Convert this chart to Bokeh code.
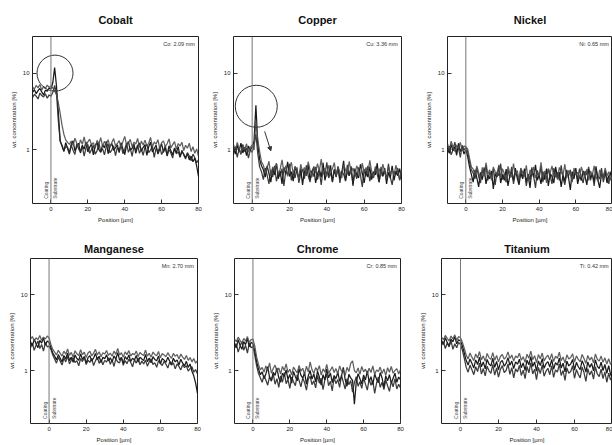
from bokeh.plotting import figure
from bokeh.layouts import column, row
from bokeh.models import Span, Label, FixedTicker, Arrow, NormalHead, Range1d
from bokeh.embed import file_html
from bokeh.resources import INLINE

# ---------------- data ----------------
POSITIONS = list(range(-10, 81))  # µm
X_TICKS = [0, 20, 40, 60, 80]
Y_TICKS = [1, 10]
Y_TICK_LABELS = {1: "1", 10: "10"}
Y_MINOR = [0.2, 0.3, 0.4, 0.5, 0.6, 0.7, 0.8, 0.9, 2, 3, 4, 5, 6, 7, 8, 9, 20, 30]

TITLES = ["Cobalt", "Copper", "Nickel", "Manganese", "Chrome", "Titanium"]
NOTES = ["Co: 2.09 mm", "Cu: 3.36 mm", "Ni: 0.65 mm", "Mn: 2.70 mm", "Cr: 0.85 mm", "Ti: 0.42 mm"]
REGION_LABELS = ["Coating", "Substrate"]

COBALT_A = [5.6, 6.1, 5.4, 5.9, 6.3, 5.7, 5.2, 6.0, 5.8, 6.4,
            6.2, 7.5, 11.8, 6.8, 3.1, 1.3,
            1.12, 0.95, 1.24, 1.05, 0.88, 1.18, 1.31, 0.97, 1.09, 1.22,
            0.91, 1.15, 1.02, 1.27, 0.94, 1.08, 1.19, 0.86, 1.13, 1.25,
            1.01, 0.93, 1.17, 1.06, 1.29, 0.89, 1.11, 1.21, 0.98, 1.07,
            1.16, 0.92, 1.24, 1.03, 0.87, 1.14, 1.28, 0.99, 1.05, 1.19,
            0.9, 1.12, 1.23, 0.96, 1.08, 1.17, 0.85, 1.1, 1.26, 0.94,
            1.04, 1.15, 0.88, 1.02, 1.2, 0.93, 1.07, 0.84, 1.13, 0.97,
            0.86, 1.05, 0.92, 1.1, 0.81, 0.95, 0.88, 0.79, 0.9, 0.74,
            0.83, 0.7, 0.78, 0.62, 0.45]
COBALT_B = [4.8, 5.3, 5.0, 4.6, 5.5, 5.1, 4.9, 5.4, 4.7, 5.2,
            5.0, 5.6, 6.9, 5.5, 2.4, 1.3, 1.15, 0.98, 1.1,
            1.08, 0.92, 1.15, 0.99, 0.87, 1.21, 1.03, 0.94, 1.12, 0.83,
            1.06, 1.18, 0.9, 1.01, 1.14, 0.88, 0.97, 1.23, 0.95, 1.04,
            0.86, 1.1, 1.2, 0.91, 1.0, 1.13, 0.84, 1.07, 0.96, 1.17,
            0.89, 1.02, 1.22, 0.93, 1.06, 0.82, 1.11, 0.98, 1.16, 0.9,
            1.03, 0.85, 1.09, 1.19, 0.92, 0.99, 1.12, 0.8, 1.05, 0.94,
            1.1, 0.87, 0.97, 1.14, 0.83, 1.01, 0.91, 0.78, 1.06, 0.89,
            0.95, 0.8, 0.99, 0.86, 0.76, 0.92, 0.83, 0.72, 0.88, 0.79,
            0.68, 0.74]
COBALT_C = [6.6, 6.2, 6.9, 6.4, 7.1, 6.0, 6.7, 6.3, 7.0, 6.5,
            6.8, 6.4, 5.9, 5.2, 4.1, 3.0, 2.1, 1.6, 1.35, 1.25, 1.18,
            1.3, 1.14, 1.42, 1.22, 1.09, 1.35, 1.18, 1.48, 1.12, 1.27,
            1.38, 1.16, 1.24, 1.05, 1.33, 1.2, 1.44, 1.11, 1.29, 1.17,
            1.36, 1.08, 1.25, 1.4, 1.13, 1.21, 1.32, 1.06, 1.28, 1.5,
            1.15, 1.23, 1.37, 1.1, 1.26, 1.19, 1.41, 1.07, 1.3, 1.16,
            1.34, 1.12, 1.22, 1.45, 1.09, 1.27, 1.18, 1.36, 1.04, 1.24,
            1.31, 1.1, 1.2, 1.39, 1.06, 1.17, 1.28, 1.02, 1.21, 1.12,
            1.26, 0.98, 1.15, 1.05, 1.22, 0.95, 1.1, 0.9, 1.03, 0.82]

COPPER_A = [1.05, 0.88, 1.15, 0.96, 1.22, 0.91, 1.08, 0.84, 1.12, 0.99,
            1.1, 1.3, 3.8, 1.2, 0.75, 0.62,
            0.55, 0.44, 0.62, 0.49, 0.38, 0.58, 0.47, 0.66, 0.42, 0.53,
            0.36, 0.59, 0.48, 0.7, 0.45, 0.52, 0.39, 0.61, 0.5, 0.43,
            0.57, 0.35, 0.54, 0.46, 0.64, 0.41, 0.51, 0.6, 0.37, 0.49,
            0.56, 0.44, 0.68, 0.4, 0.52, 0.47, 0.63, 0.38, 0.55, 0.45,
            0.59, 0.42, 0.5, 0.72, 0.39, 0.53, 0.46, 0.61, 0.34, 0.57,
            0.48, 0.43, 0.65, 0.5, 0.37, 0.55, 0.44, 0.6, 0.41, 0.52,
            0.47, 0.67, 0.38, 0.54, 0.45, 0.58, 0.36, 0.51, 0.43, 0.62,
            0.4, 0.53, 0.46, 0.57, 0.42]
COPPER_B = [0.92, 1.1, 0.8, 1.02, 0.87, 1.18, 0.95, 1.06, 0.78, 1.0,
            0.93, 1.15, 1.6, 0.9, 0.6,
            0.52, 0.41, 0.58, 0.47, 0.36, 0.55, 0.44, 0.62, 0.39, 0.5,
            0.45, 0.57, 0.34, 0.53, 0.48, 0.66, 0.4, 0.51, 0.43, 0.59,
            0.37, 0.49, 0.56, 0.42, 0.63, 0.46, 0.38, 0.54, 0.45, 0.6,
            0.41, 0.52, 0.35, 0.58, 0.47, 0.69, 0.43, 0.5, 0.39, 0.56,
            0.44, 0.61, 0.37, 0.53, 0.48, 0.4, 0.64, 0.46, 0.55, 0.36,
            0.51, 0.42, 0.59, 0.47, 0.33, 0.56, 0.45, 0.62, 0.39, 0.5,
            0.43, 0.57, 0.48, 0.38, 0.6, 0.46, 0.53, 0.41, 0.66, 0.44,
            0.35, 0.52, 0.47, 0.58, 0.4, 0.49]
COPPER_C = [1.18, 0.97, 1.25, 1.04, 0.9, 1.14, 1.01, 1.2, 0.93, 1.08,
            1.16, 1.0, 2.4, 1.35, 0.95, 0.7,
            0.63, 0.5, 0.58, 0.71, 0.46, 0.6, 0.53, 0.67, 0.48, 0.56,
            0.74, 0.51, 0.62, 0.45, 0.57, 0.69, 0.49, 0.6, 0.54, 0.42,
            0.65, 0.52, 0.59, 0.47, 0.7, 0.55, 0.44, 0.61, 0.5, 0.66,
            0.53, 0.76, 0.48, 0.58, 0.45, 0.63, 0.51, 0.57, 0.68, 0.46,
            0.6, 0.52, 0.43, 0.64, 0.55, 0.49, 0.71, 0.5, 0.58, 0.47,
            0.62, 0.54, 0.45, 0.67, 0.51, 0.59, 0.48, 0.73, 0.53, 0.44,
            0.61, 0.5, 0.57, 0.46, 0.65, 0.52, 0.42, 0.6, 0.49, 0.55,
            0.47, 0.63, 0.5, 0.41, 0.56]

NICKEL_A = [1.05, 0.9, 1.18, 0.97, 1.1, 0.85, 1.22, 0.95, 1.08, 0.88,
            1.0, 0.82, 0.6,
            0.48, 0.38, 0.55, 0.43, 0.33, 0.51, 0.41, 0.59, 0.36, 0.47,
            0.42, 0.53, 0.31, 0.49, 0.44, 0.62, 0.37, 0.48, 0.4, 0.56,
            0.34, 0.46, 0.52, 0.39, 0.58, 0.43, 0.35, 0.5, 0.42, 0.57,
            0.38, 0.48, 0.32, 0.54, 0.44, 0.64, 0.4, 0.47, 0.36, 0.52,
            0.41, 0.57, 0.34, 0.49, 0.45, 0.37, 0.6, 0.43, 0.51, 0.33,
            0.47, 0.39, 0.55, 0.44, 0.3, 0.52, 0.42, 0.58, 0.36, 0.46,
            0.4, 0.53, 0.45, 0.35, 0.56, 0.43, 0.49, 0.38, 0.61, 0.41,
            0.32, 0.48, 0.44, 0.54, 0.37, 0.46, 0.5, 0.4]
NICKEL_B = [0.92, 1.12, 0.86, 1.0, 1.26, 0.94, 1.06, 0.8, 1.15, 0.99,
            1.08, 0.95, 0.7, 0.55,
            0.5, 0.42, 0.58, 0.45, 0.37, 0.54, 0.47, 0.63, 0.4, 0.51,
            0.44, 0.56, 0.35, 0.52, 0.46, 0.66, 0.41, 0.49, 0.38, 0.55,
            0.43, 0.6, 0.36, 0.5, 0.47, 0.39, 0.57, 0.44, 0.53, 0.34,
            0.48, 0.41, 0.59, 0.45, 0.32, 0.54, 0.43, 0.61, 0.38, 0.49,
            0.42, 0.56, 0.46, 0.36, 0.58, 0.44, 0.51, 0.4, 0.63, 0.43,
            0.35, 0.5, 0.46, 0.55, 0.39, 0.48, 0.52, 0.41, 0.57, 0.44,
            0.37, 0.53, 0.47, 0.6, 0.4, 0.5, 0.34, 0.55, 0.45, 0.42,
            0.58, 0.38, 0.49, 0.44, 0.36, 0.52, 0.46]
NICKEL_C = [1.2, 1.0, 1.3, 1.08, 0.95, 1.16, 1.04, 1.25, 0.98, 1.12,
            1.1, 1.02, 0.78, 0.6,
            0.56, 0.47, 0.62, 0.5, 0.42, 0.59, 0.45, 0.68, 0.48, 0.55,
            0.4, 0.6, 0.52, 0.46, 0.64, 0.43, 0.57, 0.49, 0.38, 0.61,
            0.5, 0.44, 0.66, 0.47, 0.54, 0.41, 0.58, 0.51, 0.45, 0.63,
            0.39, 0.55, 0.48, 0.6, 0.43, 0.52, 0.46, 0.69, 0.44, 0.53,
            0.37, 0.57, 0.5, 0.62, 0.45, 0.49, 0.41, 0.59, 0.52, 0.46,
            0.65, 0.43, 0.54, 0.48, 0.38, 0.58, 0.47, 0.51, 0.42, 0.6,
            0.5, 0.44, 0.56, 0.4, 0.53, 0.47, 0.62, 0.45, 0.39, 0.55,
            0.49, 0.43, 0.58, 0.46, 0.52, 0.4, 0.48]

MANGANESE_A = [2.4, 2.1, 2.6, 2.25, 2.0, 2.5, 2.3, 2.7, 2.15, 2.45,
               2.35, 2.0, 1.7,
               1.55, 1.38, 1.62, 1.45, 1.3, 1.58, 1.42, 1.7, 1.35, 1.5,
               1.28, 1.6, 1.44, 1.36, 1.66, 1.4, 1.52, 1.25, 1.48, 1.57,
               1.33, 1.46, 1.68, 1.39, 1.54, 1.27, 1.5, 1.43, 1.61, 1.34,
               1.47, 1.3, 1.56, 1.41, 1.72, 1.37, 1.49, 1.24, 1.53, 1.4,
               1.6, 1.32, 1.45, 1.38, 1.58, 1.29, 1.5, 1.42, 1.35, 1.63,
               1.31, 1.46, 1.26, 1.52, 1.4, 1.34, 1.55, 1.22, 1.44, 1.37,
               1.28, 1.5, 1.33, 1.2, 1.45, 1.3, 1.38, 1.18, 1.41, 1.25,
               1.15, 1.32, 1.1, 1.22, 0.98, 0.85, 0.68, 0.5]
MANGANESE_B = [2.0, 2.3, 1.85, 2.15, 2.45, 1.95, 2.2, 1.8, 2.35, 2.05,
               2.1, 1.9, 1.6,
               1.42, 1.25, 1.5, 1.33, 1.18, 1.46, 1.3, 1.55, 1.22, 1.38,
               1.48, 1.27, 1.35, 1.15, 1.44, 1.31, 1.52, 1.2, 1.37, 1.28,
               1.45, 1.16, 1.34, 1.5, 1.24, 1.4, 1.19, 1.36, 1.29, 1.47,
               1.21, 1.38, 1.13, 1.43, 1.3, 1.26, 1.49, 1.17, 1.35, 1.23,
               1.41, 1.28, 1.12, 1.39, 1.25, 1.46, 1.19, 1.33, 1.22, 1.37,
               1.14, 1.3, 1.42, 1.2, 1.27, 1.1, 1.35, 1.24, 1.16, 1.32,
               1.21, 1.08, 1.29, 1.18, 1.26, 1.05, 1.22, 1.13, 1.02, 1.19,
               1.09, 1.16, 0.98, 1.06, 1.12, 0.95, 1.03, 0.9]
MANGANESE_C = [2.6, 2.8, 2.45, 2.7, 2.55, 2.9, 2.5, 2.75, 2.6, 2.85,
               2.7, 2.2, 1.9,
               1.75, 1.6, 1.85, 1.68, 1.55, 1.8, 1.64, 1.92, 1.58, 1.73,
               1.5, 1.82, 1.66, 1.57, 1.88, 1.62, 1.74, 1.48, 1.7, 1.79,
               1.56, 1.69, 1.9, 1.6, 1.77, 1.52, 1.72, 1.65, 1.84, 1.58,
               1.7, 1.54, 1.8, 1.63, 1.95, 1.6, 1.72, 1.5, 1.76, 1.62,
               1.83, 1.55, 1.68, 1.61, 1.8, 1.53, 1.73, 1.64, 1.58, 1.86,
               1.55, 1.69, 1.5, 1.75, 1.63, 1.57, 1.78, 1.47, 1.67, 1.6,
               1.52, 1.72, 1.56, 1.45, 1.68, 1.54, 1.62, 1.42, 1.65, 1.5,
               1.4, 1.58, 1.36, 1.48, 1.3, 1.44, 1.25, 1.35]

CHROME_A = [2.3, 2.0, 2.55, 2.15, 1.9, 2.4, 2.2, 2.65, 2.05, 2.35,
            2.25, 1.8, 1.3,
            1.05, 0.88, 0.96, 0.78, 0.9, 1.12, 0.82, 0.74, 0.95, 0.86,
            1.08, 0.8, 0.7, 0.92, 0.84, 1.02, 0.76, 0.89, 0.68, 0.97,
            0.83, 0.73, 1.06, 0.87, 0.79, 0.94, 0.66, 0.85, 1.0, 0.77,
            0.9, 0.71, 0.98, 0.82, 0.64, 0.88, 0.75, 1.04, 0.8, 0.93,
            0.69, 0.86, 0.78, 0.95, 0.72, 0.84, 1.1, 0.76, 0.62, 0.89,
            0.8, 0.74, 0.36, 0.7, 0.91, 0.78, 0.67, 0.87, 0.75, 0.99,
            0.71, 0.83, 0.65, 0.9, 0.77, 0.69, 0.94, 0.8, 0.6, 0.85,
            0.73, 0.88, 0.68, 0.79, 0.92, 0.7, 0.82, 0.76]
CHROME_B = [1.95, 2.25, 1.75, 2.1, 2.4, 1.85, 2.15, 1.7, 2.3, 2.0,
            2.05, 1.6, 1.15,
            0.92, 0.8, 0.7, 0.86, 0.75, 0.64, 0.83, 0.72, 0.9, 0.66,
            0.78, 0.6, 0.85, 0.7, 0.94, 0.67, 0.76, 0.58, 0.82, 0.71,
            0.63, 0.88, 0.74, 0.61, 0.8, 0.69, 0.55, 0.77, 0.84, 0.65,
            0.73, 0.59, 0.86, 0.68, 0.79, 0.56, 0.75, 0.9, 0.63, 0.72,
            0.54, 0.81, 0.67, 0.76, 0.6, 0.87, 0.7, 0.57, 0.78, 0.65,
            0.74, 0.52, 0.69, 0.83, 0.62, 0.71, 0.58, 0.8, 0.66, 0.55,
            0.77, 0.64, 0.73, 0.5, 0.68, 0.82, 0.6, 0.7, 0.56, 0.75,
            0.63, 0.53, 0.72, 0.61, 0.78, 0.57, 0.66, 0.59]
CHROME_C = [2.6, 2.4, 2.75, 2.5, 2.3, 2.65, 2.45, 2.8, 2.35, 2.55,
            2.6, 2.1, 1.5,
            1.2, 1.02, 1.1, 0.95, 1.15, 0.99, 1.26, 0.92, 1.06, 1.18,
            0.97, 1.08, 0.9, 1.13, 1.0, 1.22, 0.94, 1.04, 0.88, 1.11,
            1.01, 0.93, 1.17, 0.98, 1.07, 0.89, 1.14, 0.96, 1.3, 1.03,
            0.91, 1.09, 0.99, 1.16, 0.87, 1.05, 0.95, 1.2, 0.92, 1.01,
            1.12, 0.94, 1.06, 0.9, 1.15, 0.98, 1.03, 0.86, 1.1, 0.97,
            1.24, 1.34, 1.0, 0.93, 1.08, 0.89, 1.13, 0.96, 1.04, 0.9,
            1.07, 0.94, 1.15, 0.88, 1.02, 0.97, 1.11, 0.91, 1.05, 0.86,
            1.09, 0.95, 1.13, 0.92, 1.0, 1.06, 0.9, 1.03]

TITANIUM_A = [2.5, 2.2, 2.7, 2.35, 2.1, 2.6, 2.4, 2.8, 2.25, 2.55,
              2.45, 2.1, 1.7,
              1.35, 1.18, 1.42, 1.25, 1.08, 1.38, 1.2, 1.5, 1.12, 1.3,
              1.05, 1.4, 1.22, 1.15, 1.45, 1.1, 1.32, 1.02, 1.28, 1.36,
              1.14, 1.24, 1.48, 1.17, 1.33, 1.06, 1.3, 1.21, 1.41, 1.09,
              1.26, 1.0, 1.37, 1.19, 1.52, 1.13, 1.29, 0.98, 1.34, 1.16,
              1.43, 1.07, 1.23, 1.31, 1.11, 1.39, 1.04, 1.27, 1.18, 1.46,
              1.08, 1.25, 0.96, 1.33, 1.15, 1.22, 1.4, 1.01, 1.28, 1.12,
              1.03, 1.35, 1.17, 0.95, 1.3, 1.1, 1.24, 0.99, 1.38, 1.14,
              1.06, 1.29, 1.0, 1.2, 0.92, 1.16, 0.88, 0.82]
TITANIUM_B = [2.15, 2.4, 1.95, 2.3, 2.05, 2.5, 1.9, 2.25, 2.0, 2.35,
              2.2, 1.85, 1.45,
              1.1, 0.95, 1.18, 1.02, 0.88, 1.12, 0.97, 1.25, 0.9, 1.06,
              0.85, 1.14, 0.99, 0.92, 1.2, 0.87, 1.08, 0.82, 1.03, 1.16,
              0.94, 1.0, 1.22, 0.89, 1.09, 0.8, 1.05, 0.96, 1.17, 0.86,
              1.01, 0.78, 1.13, 0.93, 1.26, 0.9, 1.04, 0.76, 1.1, 0.91,
              1.19, 0.84, 0.98, 1.07, 0.88, 1.15, 0.81, 1.02, 0.95, 1.21,
              0.86, 1.0, 0.74, 1.08, 0.92, 0.97, 1.16, 0.79, 1.03, 0.89,
              0.8, 1.11, 0.94, 0.72, 1.06, 0.87, 0.99, 0.77, 1.12, 0.9,
              0.83, 1.04, 0.78, 0.96, 0.7, 0.92, 0.75, 0.86]
TITANIUM_C = [2.75, 2.55, 2.9, 2.65, 2.45, 2.85, 2.6, 2.95, 2.5, 2.8,
              2.7, 2.35, 1.95,
              1.6, 1.42, 1.7, 1.5, 1.35, 1.65, 1.46, 1.78, 1.38, 1.56,
              1.32, 1.68, 1.48, 1.4, 1.72, 1.36, 1.58, 1.3, 1.53, 1.63,
              1.41, 1.5, 1.76, 1.44, 1.6, 1.33, 1.55, 1.47, 1.69, 1.37,
              1.52, 1.28, 1.64, 1.45, 1.8, 1.39, 1.57, 1.27, 1.62, 1.43,
              1.7, 1.34, 1.49, 1.59, 1.38, 1.67, 1.31, 1.54, 1.45, 1.74,
              1.35, 1.51, 1.25, 1.61, 1.42, 1.48, 1.66, 1.29, 1.56, 1.4,
              1.3, 1.63, 1.44, 1.24, 1.58, 1.37, 1.5, 1.26, 1.65, 1.41,
              1.33, 1.55, 1.28, 1.47, 1.22, 1.43, 1.2, 1.36]

SERIES = [
    [COBALT_A, COBALT_B, COBALT_C],
    [COPPER_A, COPPER_B, COPPER_C],
    [NICKEL_A, NICKEL_B, NICKEL_C],
    [MANGANESE_A, MANGANESE_B, MANGANESE_C],
    [CHROME_A, CHROME_B, CHROME_C],
    [TITANIUM_A, TITANIUM_B, TITANIUM_C],
]

# highlight circles (panel index -> centre in data units, diameter px)
CIRCLES = {0: (2.2, 10.0, 36), 1: (2.2, 3.7, 42)}
ARROWS = {1: (6.7, 1.74, 10.0, 0.97)}

LINE_COLORS = ["#000000", "#262626", "#4d4d4d"]
FONT = "Liberation Sans"

# layout geometry: (width, height, left, right, top, bottom, title_standoff)
GEOM = [
    (204, 228, 32, 6, 36, 25, 22),
    (204, 228, 29, 7, 36, 25, 22),
    (204, 228, 39, 0, 36, 25, 22),
    (204, 217, 30, 7, 30, 18, 7),
    (204, 217, 30, 8, 30, 18, 7),
    (204, 217, 33, 0, 30, 18, 7),
]


def make_panel(i):
    w, h, l, r, t, b, so = GEOM[i]
    p = figure(width=w, height=h, output_backend="svg", toolbar_location=None,
               y_axis_type="log", x_range=Range1d(-10, 80), y_range=Range1d(0.2, 30),
               min_border_left=l, min_border_right=r, min_border_top=t, min_border_bottom=b)
    p.title.text = TITLES[i]
    p.title.align = "center"
    p.title.text_font = FONT
    p.title.text_font_style = "bold"
    p.title.text_font_size = "11px"
    p.title.text_color = "#111111"
    p.title.standoff = so
    p.grid.visible = False
    p.outline_line_color = "#222222"
    p.outline_line_width = 1
    p.background_fill_color = "white"
    p.border_fill_color = "white"

    for k, s in enumerate(SERIES[i]):
        xs = POSITIONS[:len(s)]
        p.line(xs, s, line_color=LINE_COLORS[k], line_width=1.25, line_alpha=0.9)

    p.add_layout(Span(location=0, dimension="height", line_color="#777777", line_width=1))

    xa = p.xaxis[0]
    xa.ticker = FixedTicker(ticks=X_TICKS)
    xa.axis_label = "Position [µm]"
    ya = p.yaxis[0]
    ya.ticker = FixedTicker(ticks=Y_TICKS, minor_ticks=Y_MINOR)
    ya.major_label_overrides = Y_TICK_LABELS
    ya.axis_label = "wt. concentration [%]"
    for ax in (xa, ya):
        ax.axis_label_text_font = FONT
        ax.axis_label_text_font_size = "6px"
        ax.axis_label_text_font_style = "normal"
        ax.axis_label_text_color = "#222222"
        ax.axis_label_standoff = 3
        ax.major_label_text_font = FONT
        ax.major_label_text_font_size = "6px"
        ax.major_label_text_color = "#222222"
        ax.major_label_standoff = 3
        ax.major_tick_in = 4
        ax.major_tick_out = 0
        ax.minor_tick_in = 2
        ax.minor_tick_out = 0
        ax.axis_line_color = None
        ax.major_tick_line_color = "#333333"
        ax.minor_tick_line_color = "#555555"
    ya.minor_tick_line_color = None

    # region labels at the interface
    p.add_layout(Label(x=-0.8, y=0.23, text=REGION_LABELS[0], angle=1.5708,
                       text_font=FONT, text_font_size="5px", text_color="#444444",
                       text_align="left", text_baseline="bottom"))
    p.add_layout(Label(x=0.8, y=0.23, text=REGION_LABELS[1], angle=1.5708,
                       text_font=FONT, text_font_size="5px", text_color="#444444",
                       text_align="left", text_baseline="top"))
    # note at top right
    p.add_layout(Label(x=78, y=26, text=NOTES[i], text_font=FONT, text_font_size="5.5px",
                       text_color="#333333", text_align="right", text_baseline="top"))

    if i in CIRCLES:
        cx, cy, d = CIRCLES[i]
        p.scatter([cx], [cy], marker="circle", size=d, fill_color=None,
                  line_color="#333333", line_width=1)
    if i in ARROWS:
        x0, y0, x1, y1 = ARROWS[i]
        p.add_layout(Arrow(end=NormalHead(size=4, fill_color="#333333", line_color="#333333"),
                           x_start=x0, y_start=y0, x_end=x1, y_end=y1,
                           line_color="#333333", line_width=1))
    return p


panels = [make_panel(i) for i in range(6)]
layout = column(row(*panels[:3], spacing=0), row(*panels[3:], spacing=0), spacing=0)

open("out.html", "w").write(file_html(layout, INLINE))
